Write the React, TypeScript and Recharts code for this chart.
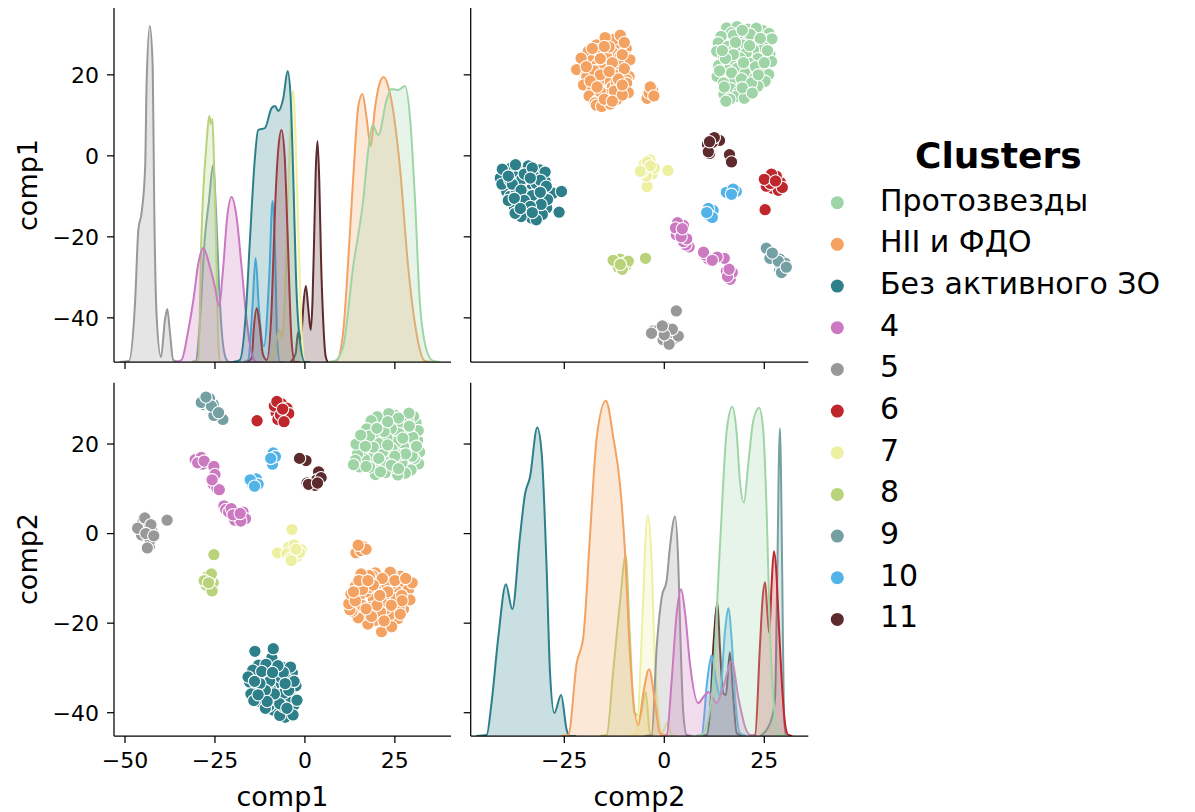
import React from 'react';
import { ComposedChart, ScatterChart, Scatter, Area, XAxis, YAxis } from 'recharts';

const FONT = 'DejaVu Sans, Liberation Sans, sans-serif';

const clusterNames = ['Протозвезды', 'HII и ФДО', 'Без активного ЗО', '4', '5', '6', '7', '8', '9', '10', '11'];
const clusterColors = ['#9fd5a6', '#f4a261', '#2d7f89', '#cb79c0', '#989898', '#c0272d', '#edf0a0', '#b9d37b', '#74a0a4', '#52b3e8', '#5d2a2d'];

const comp1Ticks = [-40, -20, 0, 20];
const comp2Ticks = [-40, -20, 0, 20];
const comp1XTicks = [-50, -25, 0, 25];
const comp2XTicks = [-25, 0, 25];
const comp1Domain = [-53.06, 40.6];
const comp1RowDomain = [-50.9, 36.5];
const comp2Domain = [-48.4, 36.0];
const comp2RowDomain = [-45.2, 33.7];

// scatter points: [comp1, comp2]
const pts1: [number, number][] = [
  [31.6, 15.6], [31.9, 18.2], [31.3, 20.8], [30.9, 24.7], [31.5, 23.0], [30.4, 16.8], [30.2, 26.2],
  [29.5, 14.2], [29.2, 19.4], [29.0, 22.3], [29.8, 17.3], [28.6, 25.3], [28.9, 26.9], [28.2, 20.9],
  [27.9, 13.5], [27.4, 19.4], [27.6, 23.6], [27.0, 15.9], [26.8, 24.9], [26.5, 17.6], [26.2, 22.3],
  [25.8, 13.1], [25.4, 20.5], [25.1, 26.4], [24.8, 14.8], [24.2, 18.9], [24.0, 23.4], [23.6, 16.6], [23.3, 26.8],
  [22.8, 21.3], [22.3, 13.6], [22.0, 24.6], [21.6, 18.2], [21.2, 15.7], [20.8, 24.8], [20.4, 20.2], [20.1, 26.1],
  [19.6, 13.2], [19.2, 22.6], [18.9, 17.1], [18.4, 25.2], [18.0, 14.8], [17.6, 20.4], [17.2, 23.4],
  [16.6, 16.6], [16.1, 21.6], [15.7, 18.6], [15.2, 14.9], [14.6, 17.8], [14.0, 16.4], [13.5, 15.4], [14.2, 20.0],
  [30.0, 21.5], [28.0, 17.8], [26.0, 25.8], [25.0, 17.3], [23.0, 19.8], [22.0, 22.8], [20.5, 16.8], [19.0, 19.3],
  [18.0, 21.8], [16.8, 19.5], [15.5, 22.0], [24.0, 15.3], [27.2, 21.3], [21.0, 13.8], [29.0, 24.0], [31.0, 19.5],
  [17.0, 15.0], [26.0, 14.5], [23.0, 25.0], [20.0, 23.5],
];
const pts2: [number, number][] = [
  [28.3, -14.4], [27.6, -11.1], [27.4, -16.9], [28.8, -12.5], [26.2, -16.5], [25.4, -12.8], [26.5, -9.5], [25.8, -19.0],
  [24.4, -11.1], [24.2, -9.0], [23.7, -8.6], [23.5, -18.2], [23.3, -20.7], [24.8, -14.5], [22.0, -14.4], [22.5, -16.8],
  [21.3, -21.9], [21.7, -15.7], [20.9, -12.0], [20.5, -11.1], [20.0, -19.5], [19.4, -19.4], [19.6, -8.8], [19.0, -14.6],
  [18.8, -9.4], [18.3, -16.5], [17.9, -9.4], [17.5, -20.2], [17.0, -13.0], [16.8, -11.5], [16.2, -18.0], [15.6, -9.0],
  [15.1, -14.4], [14.8, -18.8], [14.0, -11.8], [13.6, -16.8], [13.1, -17.3], [12.5, -17.0], [12.2, -15.65], [12.8, -13.5],
  [29.8, -11.0], [29.2, -14.8], [24.1, -20.8], [26.9, -13.8], [21.0, -17.5], [18.0, -12.0], [15.8, -16.0], [22.8, -11.5],
  [27.0, -15.0], [25.0, -10.5], [24.0, -16.0], [23.0, -13.0], [21.5, -10.0], [20.0, -16.0], [19.0, -11.5], [18.5, -18.5],
  [17.0, -16.8], [16.0, -12.5], [15.0, -10.5], [14.0, -15.0], [26.5, -18.0], [22.0, -19.5], [13.5, -13.0], [28.0, -10.0],
  [20.8, -13.8], [17.5, -10.5],
  [16.2, -2.9], [14.2, -4.3], [15.5, -3.8], [17.0, -3.5], [14.8, -2.6],
];
const pts3: [number, number][] = [
  [-4.3, -39.8], [-3.9, -36.5], [-3.5, -31.1], [-6.6, -34.4], [-8.8, -39.4], [-8.4, -33.6], [-6.3, -29.8],
  [-11.3, -36.9], [-10.4, -31.5], [-12.9, -29.4], [-13.75, -35.25], [-15.4, -33.15], [-5.5, -41.0], [-9.2, -27.75],
  [-2.5, -34.0], [-3.0, -38.3], [-4.8, -32.7], [-5.2, -37.2], [-7.0, -40.6], [-7.5, -36.0], [-7.8, -31.5],
  [-9.5, -34.8], [-10.0, -38.5], [-10.8, -29.2], [-11.8, -33.2], [-12.5, -37.5], [-13.2, -31.8], [-14.5, -30.5],
  [-15.8, -32.0], [-15.0, -35.8], [-6.0, -38.6], [-4.0, -29.8], [-2.2, -37.2], [-8.2, -30.4], [-9.0, -37.0],
  [-11.0, -39.0], [-6.8, -32.0], [-12.0, -30.8], [-14.2, -37.3], [-5.8, -35.6], [-3.3, -40.5],
  [-4.5, -35.0], [-6.0, -31.0], [-7.0, -38.0], [-8.5, -35.8], [-9.8, -33.0], [-11.0, -35.0], [-12.5, -33.5],
  [-14.0, -33.0], [-10.5, -37.5], [-5.0, -39.0], [-3.0, -33.0], [-7.5, -29.5], [-13.0, -36.0], [-9.0, -31.0], [-5.5, -33.5],
  [-8.8, -25.7], [-13.9, -26.3],
];
const pts4: [number, number][] = [
  [-29.5, 16.8], [-28.5, 15.5], [-30.5, 16.5], [-28.8, 17.0], [-29.8, 15.8], [-28.0, 16.2],
  [-25.3, 15.0], [-25.0, 13.2], [-25.5, 11.0], [-24.5, 10.2], [-23.8, 9.8], [-25.8, 12.0],
  [-22.5, 6.2], [-22.0, 5.4], [-21.2, 4.8], [-20.5, 5.6], [-19.5, 3.0], [-18.5, 3.8], [-17.2, 4.8],
  [-16.5, 3.3], [-17.8, 2.8], [-20.0, 4.2], [-18.0, 4.5],
];
const pts5: [number, number][] = [
  [-38.3, 3.0], [-43.2, -2.8], [-42.5, 0.6], [-45.0, 2.7], [-45.4, -0.3], [-43.4, 2.2], [-44.0, 1.0],
  [-43.0, -1.5], [-44.5, 3.5], [-42.8, 2.0], [-46.5, 1.2], [-43.8, -3.2], [-44.2, 0.0], [-42.0, -0.5],
];
const pts6: [number, number][] = [
  [-13.3, 25.2], [-7.0, 28.5], [-6.0, 27.5], [-8.0, 27.0], [-5.5, 26.0], [-7.5, 25.5], [-6.5, 29.0],
  [-5.0, 28.0], [-8.5, 28.5], [-6.8, 26.5], [-4.5, 26.8], [-7.8, 29.5], [-5.8, 25.0], [-6.2, 27.8],
];
const pts7: [number, number][] = [
  [-1.0, -3.6], [-3.6, 0.9], [-3.5, -4.0], [-7.6, -4.3], [-2.0, -5.0], [-4.5, -3.0], [-3.0, -2.5],
  [-5.0, -4.5], [-1.5, -4.2], [-4.0, -5.5], [-2.5, -3.5], [-3.8, -6.0],
];
const pts8: [number, number][] = [
  [-25.3, -4.7], [-26.2, -12.5], [-27.0, -9.5], [-25.5, -11.0], [-26.5, -10.2], [-27.5, -11.5],
  [-26.0, -9.0], [-28.0, -10.5], [-25.8, -12.8], [-26.8, -11.0],
];
const pts9: [number, number][] = [
  [-22.8, 25.5], [-25.3, 26.4], [-25.5, 28.9], [-28.0, 28.8], [-26.5, 30.2], [-27.0, 29.0],
  [-28.8, 29.3], [-26.0, 28.5], [-27.5, 30.5], [-24.0, 27.0],
];
const pts10: [number, number][] = [
  [-8.5, 16.5], [-9.0, 15.5], [-8.8, 18.0], [-8.2, 17.2], [-9.5, 16.8],
  [-13.5, 12.2], [-14.8, 11.3], [-13.0, 11.0], [-15.2, 12.0], [-14.0, 10.6],
];
const pts11: [number, number][] = [
  [0.3, 16.3], [-1.5, 16.8], [4.0, 13.2], [3.8, 13.8], [2.8, 10.8], [0.6, 11.3], [3.3, 12.0],
  [4.5, 12.5], [1.0, 11.0], [3.5, 11.3],
];
const clusterPoints = [pts1, pts2, pts3, pts4, pts5, pts6, pts7, pts8, pts9, pts10, pts11];

// KDE curves (scaled density) along comp1: [comp1, density]
const kde1c1: [number, number][] = [[6.5, 0], [8.3, 1], [10.6, 15], [13.4, 95], [16.2, 162], [17.6, 212], [18.8, 237], [20.4, 227], [22.7, 262], [24.1, 273], [25.9, 272], [27.8, 276], [29.2, 245], [30.6, 162], [31.9, 62], [33.8, 12], [35.6, 1], [37.5, 0]];
const kde2c1: [number, number][] = [[7, 0], [8.8, 1], [10.6, 29], [12.5, 129], [13.9, 212], [14.8, 255], [16.0, 268], [17.1, 245], [18.3, 216], [19.4, 252], [20.8, 279], [21.9, 285], [23.2, 275], [24.5, 252], [26.4, 195], [28.7, 95], [31.0, 29], [33.3, 1], [35, 0]];
const kde3c1: [number, number][] = [[-20, 0], [-18.1, 2], [-16.4, 50], [-15.3, 121], [-13.9, 204], [-13.0, 232], [-11.1, 234], [-9.25, 254], [-8.3, 256], [-7.4, 251], [-6.0, 264], [-4.8, 291], [-4.0, 267], [-3.25, 187], [-2.5, 87], [-1.4, 21], [0, 0], [1.5, 0]];
const kde4c1: [number, number][] = [[-36, 0], [-34.3, 2], [-32.5, 30], [-31.0, 62], [-29.6, 99], [-28.25, 114], [-26.4, 95], [-25.0, 75], [-23.9, 56], [-22.7, 95], [-21.6, 145], [-20.4, 165], [-19.0, 145], [-17.6, 95], [-16.2, 42], [-14.8, 9], [-13.4, 0], [-12, 0]];
const kde5c1: [number, number][] = [[-51.5, 0], [-48.9, 1], [-47.2, 60], [-46.3, 132], [-45.4, 149], [-44.4, 195], [-44.0, 279], [-43.1, 336], [-42.3, 295], [-41.9, 162], [-41.2, 45], [-40.0, 5], [-38.9, 42], [-38.25, 53], [-37.5, 29], [-36.6, 2], [-35, 0]];
const kde6c1: [number, number][] = [[-16, 0], [-14.8, 4], [-14.2, 34], [-13.4, 54], [-12.5, 34], [-11.7, 8], [-10.6, 2], [-9.25, 54], [-8.3, 154], [-7.4, 213], [-6.5, 232], [-5.6, 204], [-4.9, 137], [-3.7, 21], [-2.8, 0], [-1.5, 0]];
const kde7c1: [number, number][] = [[-11, 0], [-9.7, 1], [-8.1, 20], [-7.1, 32], [-6.25, 25], [-5.3, 90], [-4.2, 220], [-3.25, 271], [-2.3, 190], [-1.5, 90], [-0.8, 25], [0, 0], [1.5, 0]];
const kde8c1: [number, number][] = [[-31, 0], [-29.6, 1], [-28.8, 121], [-27.3, 221], [-26.6, 246], [-26.1, 238], [-25.7, 243], [-25.3, 204], [-24.7, 121], [-24.1, 21], [-23.6, 0], [-22, 0]];
const kde9c1: [number, number][] = [[-31.5, 0], [-30.3, 1], [-29.2, 40], [-27.8, 125], [-26.7, 160], [-25.5, 197], [-24.7, 150], [-23.9, 80], [-23.1, 30], [-21.9, 3], [-21.1, 0], [-20, 0]];
const kde10c1: [number, number][] = [[-17, 0], [-15.75, 2], [-14.6, 54], [-13.7, 104], [-12.8, 54], [-11.4, 16], [-9.9, 87], [-9.0, 161], [-8.25, 104], [-7.7, 21], [-6.9, 0], [-5.5, 0]];
const kde11c1: [number, number][] = [[-4, 0], [-2.6, 8], [-1.9, 30], [-1.3, 22], [-0.9, 30], [-0.4, 58], [0.28, 76], [0.9, 55], [1.6, 32], [2.1, 60], [2.6, 130], [3.0, 190], [3.5, 221], [4.0, 180], [4.5, 100], [5.1, 40], [5.8, 5], [6.5, 0], [8, 0]];

// KDE curves along comp2: [comp2, density]
const kde1c2: [number, number][] = [[8, 0], [9.35, 1], [11.85, 39], [13.9, 189], [15.6, 306], [17.0, 330], [18.1, 303], [18.9, 256], [19.9, 234], [21.0, 273], [22.25, 316], [23.7, 329], [24.75, 306], [25.6, 223], [26.4, 106], [27.25, 39], [28.5, 3], [29.2, 1], [31, 0]];
const kde2c2: [number, number][] = [[-26, 0], [-24, 1], [-21.9, 73], [-20.25, 99], [-18.6, 199], [-16.9, 299], [-14.6, 336], [-12.75, 299], [-11.1, 253], [-9.8, 183], [-8.6, 83], [-6.5, 11], [-5.25, 43], [-3.8, 67], [-2.3, 33], [-1.1, 3], [0.5, 0]];
const kde3c2: [number, number][] = [[-47, 0], [-44.4, 1], [-43.2, 33], [-41.5, 99], [-39.6, 152], [-38.0, 127], [-36.1, 199], [-34.8, 243], [-33.6, 259], [-31.75, 309], [-30.65, 283], [-29.4, 166], [-28.6, 66], [-27.5, 23], [-25.8, 41], [-24.4, 6], [-23.6, 0], [-22, 0]];
const kde4c2: [number, number][] = [[-1, 0], [0.6, 1], [1.85, 56], [3.1, 123], [4.2, 147], [5.2, 123], [6.4, 73], [8.5, 33], [9.75, 39], [11.0, 44], [13.1, 33], [14.75, 49], [16.85, 75], [18.5, 39], [20.2, 9], [21.4, 1], [23, 0]];
const kde5c2: [number, number][] = [[-5, 0], [-3.15, 1], [-1.9, 89], [-0.65, 139], [0.6, 156], [1.4, 189], [2.7, 220], [3.5, 173], [4.1, 89], [4.75, 23], [5.6, 1], [7, 0]];
const kde6c2: [number, number][] = [[21.5, 0], [22.7, 1], [23.9, 89], [24.6, 139], [25.2, 154], [25.75, 125], [26.25, 103], [26.8, 150], [27.4, 185], [28.0, 165], [28.5, 123], [29.35, 56], [30.2, 12], [31, 1], [32, 0]];
const kde7c2: [number, number][] = [[-8.5, 0], [-6.9, 3], [-6.1, 56], [-5.25, 139], [-4.8, 189], [-4.15, 221], [-3.15, 173], [-2.5, 89], [-1.5, 23], [-0.65, 3], [0.85, 14], [1.85, 1], [3, 0]];
const kde8c2: [number, number][] = [[-16, 0], [-14.4, 1], [-12.75, 66], [-11.1, 133], [-9.65, 181], [-8.6, 99], [-7.5, 23], [-6.0, 20], [-4.65, 44], [-3.6, 3], [-2.5, 0]];
const kde9c2: [number, number][] = [[24, 0], [26.0, 9], [27.0, 20], [27.7, 39], [28.1, 123], [28.9, 308], [29.5, 156], [29.9, 23], [30.4, 1], [31.5, 0]];
const kde10c2: [number, number][] = [[8, 0], [9.35, 1], [10.75, 56], [11.85, 81], [12.9, 56], [13.9, 41], [15.2, 106], [16.0, 128], [16.85, 96], [17.7, 39], [18.9, 3], [20.5, 0]];
const kde11c2: [number, number][] = [[9, 0], [10.6, 1], [11.4, 23], [12.25, 89], [13.3, 133], [13.9, 89], [14.75, 43], [15.4, 41], [16.4, 84], [17.25, 39], [18.1, 3], [19.5, 0]];

const kdeComp1 = [kde1c1, kde2c1, kde3c1, kde4c1, kde5c1, kde6c1, kde7c1, kde8c1, kde9c1, kde10c1, kde11c1];
const kdeComp2 = [kde1c2, kde2c2, kde3c2, kde4c2, kde5c2, kde6c2, kde7c2, kde8c2, kde9c2, kde10c2, kde11c2];

const axisLineStyle = { stroke: '#000', strokeWidth: 1.25 };
const tickStyle = { fill: '#000', fontSize: 22, fontFamily: FONT };
const blank = () => '';
const fmt = (v: number) => String(v).replace('-', '\u2212');

type PanelBox = { left: number; top: number; width: number; height: number; margin: any; yWidth: number; xHeight: number };

function KdePanel(props: { box: PanelBox; curves: [number, number][][]; xDomain: number[]; xTicks: number[]; yDomain: number[]; yTicks: number[]; showX: boolean; showY: boolean }) {
  const { box, curves } = props;
  const order = curves.map((_, i) => i).reverse();
  return (
    <div style={{ position: 'absolute', left: box.left, top: box.top }}>
      <ComposedChart width={box.width} height={box.height} margin={box.margin}>
        <XAxis type="number" dataKey="x" domain={props.xDomain} ticks={props.xTicks} interval={0} allowDataOverflow
          axisLine={axisLineStyle} tickLine={axisLineStyle} tickSize={7} tickMargin={9} tick={tickStyle}
          tickFormatter={props.showX ? fmt : blank} height={box.xHeight} />
        <YAxis yAxisId="v" type="number" domain={props.yDomain} ticks={props.yTicks} interval={0} allowDataOverflow
          axisLine={axisLineStyle} tickLine={axisLineStyle} tickSize={7} tickMargin={8} tick={tickStyle}
          tickFormatter={props.showY ? fmt : blank} width={box.yWidth} />
        <YAxis yAxisId="d" type="number" orientation="right" domain={[0, 354]} hide width={0} allowDataOverflow />
        {order.map((i) => (
          <Area key={i} yAxisId="d" type="monotone" dataKey="d" data={curves[i].map(([x, d]) => ({ x, d }))}
            stroke={clusterColors[i]} strokeWidth={2} fill={clusterColors[i]} fillOpacity={0.25}
            isAnimationActive={false} dot={false} activeDot={false} />
        ))}
      </ComposedChart>
    </div>
  );
}

function ScatterPanel(props: { box: PanelBox; xKey: string; yKey: string; xDomain: number[]; xTicks: number[]; yDomain: number[]; yTicks: number[]; showX: boolean; showY: boolean }) {
  const { box } = props;
  return (
    <div style={{ position: 'absolute', left: box.left, top: box.top }}>
      <ScatterChart width={box.width} height={box.height} margin={box.margin}>
        <XAxis type="number" dataKey={props.xKey} domain={props.xDomain} ticks={props.xTicks} interval={0} allowDataOverflow
          axisLine={axisLineStyle} tickLine={axisLineStyle} tickSize={7} tickMargin={9} tick={tickStyle}
          tickFormatter={props.showX ? fmt : blank} height={box.xHeight} />
        <YAxis type="number" dataKey={props.yKey} domain={props.yDomain} ticks={props.yTicks} interval={0} allowDataOverflow
          axisLine={axisLineStyle} tickLine={axisLineStyle} tickSize={7} tickMargin={8} tick={tickStyle}
          tickFormatter={props.showY ? fmt : blank} width={box.yWidth} />
        {clusterPoints.map((pts, i) => (
          <Scatter key={i} data={pts.map(([comp1, comp2]) => ({ comp1, comp2 }))} isAnimationActive={false}
            shape={(p: any) => <circle cx={p.cx} cy={p.cy} r={6.2} fill={clusterColors[i]} stroke="#fff" strokeWidth={1.1} />} />
        ))}
      </ScatterChart>
    </div>
  );
}

const boxTL: PanelBox = { left: 0, top: 0, width: 460, height: 380, margin: { top: 8, right: 9, bottom: 0, left: 0 }, yWidth: 114, xHeight: 18 };
const boxTR: PanelBox = { left: 460, top: 0, width: 360, height: 380, margin: { top: 8, right: 11.7, bottom: 0, left: 0 }, yWidth: 10.7, xHeight: 18 };
const boxBL: PanelBox = { left: 0, top: 370, width: 460, height: 442, margin: { top: 12.7, right: 9, bottom: 0, left: 0 }, yWidth: 114, xHeight: 76 };
const boxBR: PanelBox = { left: 460, top: 370, width: 360, height: 442, margin: { top: 12.7, right: 11.7, bottom: 0, left: 0 }, yWidth: 10.7, xHeight: 76 };

export default function App() {
  const legendY0 = 202.7;
  const legendStep = 41.67;
  return (
    <div style={{ position: 'absolute', left: 0, top: 0, width: 1195, height: 812, background: '#fff', fontFamily: FONT }}>
      <KdePanel box={boxTL} curves={kdeComp1} xDomain={comp1Domain} xTicks={comp1XTicks} yDomain={comp1RowDomain} yTicks={comp1Ticks} showX={false} showY={true} />
      <ScatterPanel box={boxTR} xKey="comp2" yKey="comp1" xDomain={comp2Domain} xTicks={comp2XTicks} yDomain={comp1RowDomain} yTicks={comp1Ticks} showX={false} showY={false} />
      <ScatterPanel box={boxBL} xKey="comp1" yKey="comp2" xDomain={comp1Domain} xTicks={comp1XTicks} yDomain={comp2RowDomain} yTicks={comp2Ticks} showX={true} showY={true} />
      <KdePanel box={boxBR} curves={kdeComp2} xDomain={comp2Domain} xTicks={comp2XTicks} yDomain={comp2RowDomain} yTicks={comp2Ticks} showX={true} showY={false} />
      <svg width={1195} height={812} style={{ position: 'absolute', left: 0, top: 0, pointerEvents: 'none' }}>
        <text transform="translate(37,185) rotate(-90)" textAnchor="middle" fontSize={27} fontFamily={FONT} fill="#000">comp1</text>
        <text transform="translate(37,559) rotate(-90)" textAnchor="middle" fontSize={27} fontFamily={FONT} fill="#000">comp2</text>
        <text x={282.5} y={806} textAnchor="middle" fontSize={27} fontFamily={FONT} fill="#000">comp1</text>
        <text x={639.5} y={806} textAnchor="middle" fontSize={27} fontFamily={FONT} fill="#000">comp2</text>
        <text x={998.3} y={168.3} textAnchor="middle" fontSize={36} fontWeight="bold" fontFamily={FONT} fill="#000">Clusters</text>
        {clusterNames.map((name, i) => (
          <g key={name}>
            <circle cx={837.3} cy={legendY0 + i * legendStep} r={6.5} fill={clusterColors[i]} />
            <text x={880} y={legendY0 + i * legendStep + 8} fontSize={30} fontFamily={FONT} fill="#000">{name}</text>
          </g>
        ))}
      </svg>
    </div>
  );
}
